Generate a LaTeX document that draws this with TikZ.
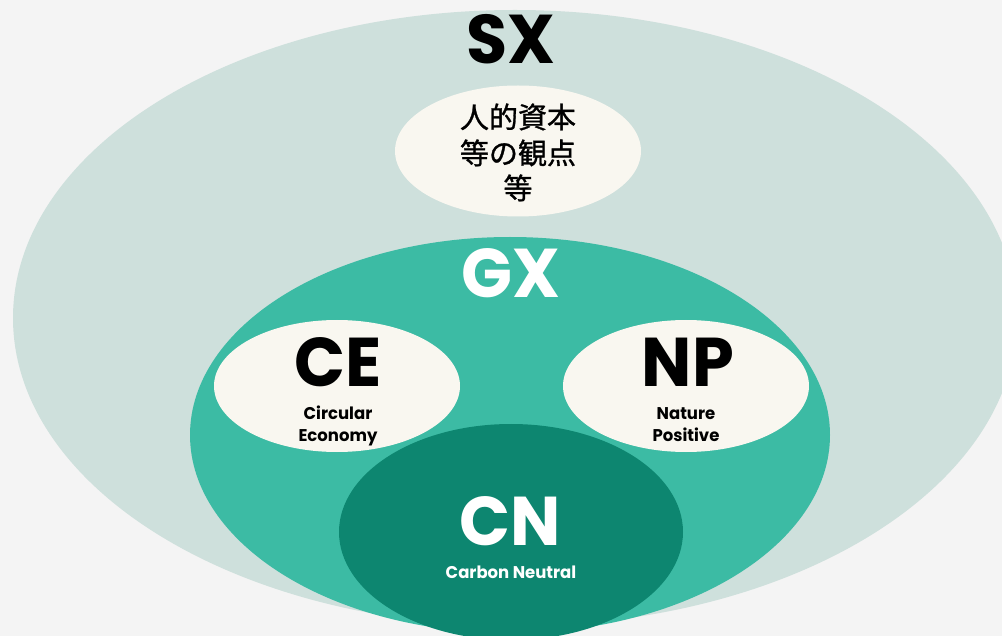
\documentclass[tikz,border=0pt]{standalone}
\usepackage{fontspec}
\setmainfont{Poppins}
\newfontfamily\bigfnt[FakeStretch=0.97]{Poppins Bold}
\newfontfamily\smlfnt[FakeStretch=0.97]{Poppins Bold}
\newfontfamily\jpfnt[FakeBold=1]{Noto Sans CJK JP}
\usetikzlibrary{shapes.geometric}
\definecolor{bgc}{HTML}{F4F4F4}
\definecolor{sxc}{HTML}{CEE0DC}
\definecolor{gxc}{HTML}{3CBBA4}
\definecolor{cnc}{HTML}{0D8670}
\definecolor{crm}{HTML}{F9F7F0}
\tikzset{
  blob/.style={ellipse, inner sep=0pt, draw=none},
  bigtxt/.style={anchor=base, inner sep=0pt, font=\bigfnt\fontsize{69}{69}\selectfont},
  smltxt/.style={anchor=base, inner sep=0pt, font=\smlfnt\fontsize{17}{17}\selectfont},
  jptxt/.style={anchor=base, inner sep=0pt, font=\jpfnt\fontsize{29}{29}\selectfont}
}
\begin{document}
\begin{tikzpicture}[x=1pt,y=-1pt]
\useasboundingbox (0,0) rectangle (1002,636);
\fill[bgc] (0,0) rectangle (1002,636);
\begin{scope}
\clip (0,0) rectangle (1002,636);
\node[blob, fill=sxc, minimum width=1004pt, minimum height=616pt] (sx) at (515,318) {};
\node[blob, fill=crm, minimum width=246pt, minimum height=131pt] (hc) at (518,151) {};
\node[blob, fill=gxc, minimum width=640pt, minimum height=396pt] (gx) at (510,435) {};
\node[blob, fill=crm, minimum width=246pt, minimum height=132pt] (ce) at (337,386) {};
\node[blob, fill=crm, minimum width=246pt, minimum height=132pt] (np) at (686,386) {};
\node[blob, fill=cnc, minimum width=344pt, minimum height=216pt] (cn) at (511,532) {};
\end{scope}
\node[bigtxt] (sxt) at (511,64) {SX};
\node[bigtxt, text=white] (gxt) at (511,298) {GX};
\node[bigtxt] (cet) at (338,387) {CE};
\node[bigtxt] (npt) at (688,387) {NP};
\node[bigtxt, text=white] (cnt) at (510,545) {CN};
\node[smltxt] (ce1) at (338,420) {Circular};
\node[smltxt] (ce2) at (338,442) {Economy};
\node[smltxt] (np1) at (686,420) {Nature};
\node[smltxt] (np2) at (686,442) {Positive};
\node[smltxt, text=white] (cn1) at (511,578) {Carbon Neutral};
\node[jptxt] (j1) at (518,128) {人的資本};
\node[jptxt] (j2) at (518,164) {等の観点};
\node[jptxt] (j3) at (518,199) {等};
\end{tikzpicture}
\end{document}
